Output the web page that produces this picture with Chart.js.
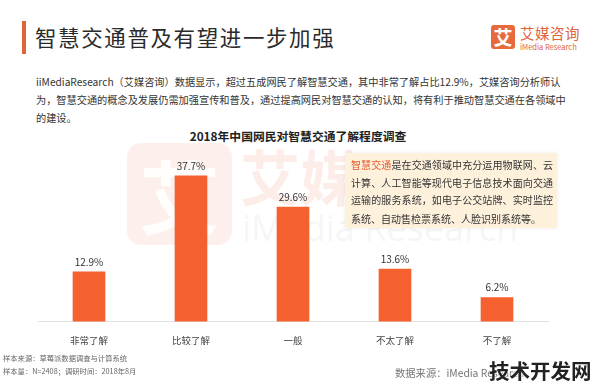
<!DOCTYPE html>
<html>
<head>
<meta charset="utf-8">
<script src="https://cdn.jsdelivr.net/npm/chart.js@4/dist/chart.umd.min.js"></script>
<style>
  html, body { margin: 0; padding: 0; background: #fff; }
  body { width: 596px; height: 386px; position: relative; overflow: hidden;
         font-family: "Noto Sans CJK SC", "Noto Sans", sans-serif; color: #333; }
  .abs { position: absolute; white-space: nowrap; }
  #titleBar { left: 22px; top: 21px; width: 4px; height: 33px; background: #e0643a; }
  #title { left: 35px; top: 22px; font-size: 21.5px; line-height: 30px; color: #2b2b2b; letter-spacing: 1.6px; }
  #logoBox { left: 491px; top: 25px; width: 24px; height: 24px; background: #e86a3c; border-radius: 3px;
             color: #fff; font-size: 19px; line-height: 24px; text-align: center; font-weight: bold; }
  #logoCn { left: 520px; top: 24px; font-size: 14.5px; line-height: 18px; color: #e0643a; letter-spacing: 0.5px; }
  #logoEn { left: 520px; top: 42px; font-size: 7.5px; line-height: 9px; color: #e0643a; }
  .para { left: 36px; font-size: 10.2px; line-height: 14px; color: #333; text-align: justify; text-align-last: justify; }
  #chartTitle { left: 0; width: 596px; top: 127px; text-align: center; font-size: 11.8px; font-weight: bold; color: #222; }
  #wmBox { left: 127px; top: 143px; width: 105px; height: 102px; border-radius: 14px; background: rgba(238, 110, 70, 0.10);
           color: rgba(255, 255, 255, 0.9); font-size: 80px; line-height: 100px; text-align: center; font-weight: bold; }
  #wmCn { left: 240px; top: 140px; font-size: 60px; line-height: 70px; color: rgba(238, 110, 70, 0.12); font-weight: bold; }
  #wmEn { left: 242px; top: 208px; font-size: 36px; line-height: 40px; color: rgba(200, 200, 200, 0.18); font-family: "Open Sans", sans-serif; }
  #note { left: 345px; top: 153px; width: 212px; height: 75px; background: #fdf1dc; box-shadow: 0 0 4px rgba(0,0,0,0.08); }
  .noteLine { left: 351px; width: 202px; font-size: 10px; line-height: 14px; color: #333; text-align: justify; text-align-last: justify; }
  .noteLine b { font-weight: normal; color: #e8582c; }
  #chartWrap { left: 0; top: 143px; width: 596px; height: 216px; }
  .foot { left: 3px; font-size: 7.3px; line-height: 10px; color: #666; }
  #source { left: 395px; top: 366px; font-size: 10.3px; line-height: 14px; color: #777; }
  #stamp { left: 489px; top: 356px; font-size: 20.5px; line-height: 28px; font-weight: bold; color: #222;
           text-shadow: 0 0 2px #fff, 0 0 2px #fff; }
</style>
</head>
<body>
<div class="abs" id="titleBar"></div>
<div class="abs" id="title">智慧交通普及有望进一步加强</div>
<div class="abs" id="logoBox">艾</div>
<div class="abs" id="logoCn">艾媒咨询</div>
<div class="abs" id="logoEn">iMedia Research</div>

<div class="abs para" style="top:75px; width:507px">iiMediaResearch（艾媒咨询）数据显示，超过五成网民了解智慧交通，其中非常了解占比12.9%，艾媒咨询分析师认</div>
<div class="abs para" style="top:93px; width:514px">为，智慧交通的概念及发展仍需加强宣传和普及，通过提高网民对智慧交通的认知，将有利于推动智慧交通在各领域中</div>
<div class="abs para" style="top:111px; text-align-last:auto">的建设。</div>
<div class="abs" id="chartTitle">2018年中国网民对智慧交通了解程度调查</div>

<div class="abs" id="wmBox">艾</div>
<div class="abs" id="wmCn">艾媒</div>
<div class="abs" id="wmEn">iMedia Research</div>

<div class="abs" id="chartWrap"><canvas id="barChart" width="596" height="216"></canvas></div>

<div class="abs" id="note"></div>
<div class="abs noteLine" style="top:158px"><b>智慧交通</b>是在交通领域中充分运用物联网、云</div>
<div class="abs noteLine" style="top:176px">计算、人工智能等现代电子信息技术面向交通</div>
<div class="abs noteLine" style="top:193px">运输的服务系统，如电子公交站牌、实时监控</div>
<div class="abs noteLine" style="top:212px; width:auto; text-align-last:auto">系统、自动售检票系统、人脸识别系统等。</div>

<div class="abs foot" style="top:353px">样本来源：草莓派数据调查与计算系统</div>
<div class="abs foot" style="top:366px">样本量：N=2408；调研时间：2018年8月</div>
<div class="abs" id="source">数据来源：iMedia Research</div>
<div class="abs" id="stamp">技术开发网</div>

<script>
const categories = ['非常了解', '比较了解', '一般', '不太了解', '不了解'];
const shares = [12.9, 37.7, 29.6, 13.6, 6.2];
const axisMax = 40;

const barColor = '#f4612f';

// value labels above each bar
const valueLabels = {
    id: 'valueLabels',
    afterDatasetsDraw(chart) {
        const ctx = chart.ctx;
        const meta = chart.getDatasetMeta(0);
        ctx.save();
        ctx.font = '10px "Noto Sans CJK SC", "Noto Sans", sans-serif';
        ctx.fillStyle = '#333';
        ctx.textAlign = 'center';
        ctx.textBaseline = 'bottom';
        meta.data.forEach((bar, i) => {
            ctx.fillText(shares[i].toFixed(1) + '%', bar.x, bar.y - 5);
        });
        ctx.restore();
    }
};

const canvas = document.getElementById('barChart');
new Chart(canvas, {
    type: 'bar',
    data: {
        labels: categories,
        datasets: [{
            data: shares,
            backgroundColor: barColor,
            borderWidth: 0,
            barThickness: 32
        }]
    },
    options: {
        responsive: false,
        animation: false,
        layout: { padding: { left: 38, right: 48, top: 24, bottom: 0 } },
        plugins: {
            legend: { display: false },
            tooltip: { enabled: false }
        },
        scales: {
            x: {
                grid: { display: false, drawTicks: false },
                border: { display: true, color: '#e2e2e2', width: 1 },
                ticks: {
                    padding: 13,
                    color: '#444',
                    font: { size: 9.5, family: '"Noto Sans CJK SC", sans-serif' }
                }
            },
            y: {
                display: false,
                min: 0,
                max: axisMax
            }
        }
    },
    plugins: [valueLabels]
});
</script>
</body>
</html>
